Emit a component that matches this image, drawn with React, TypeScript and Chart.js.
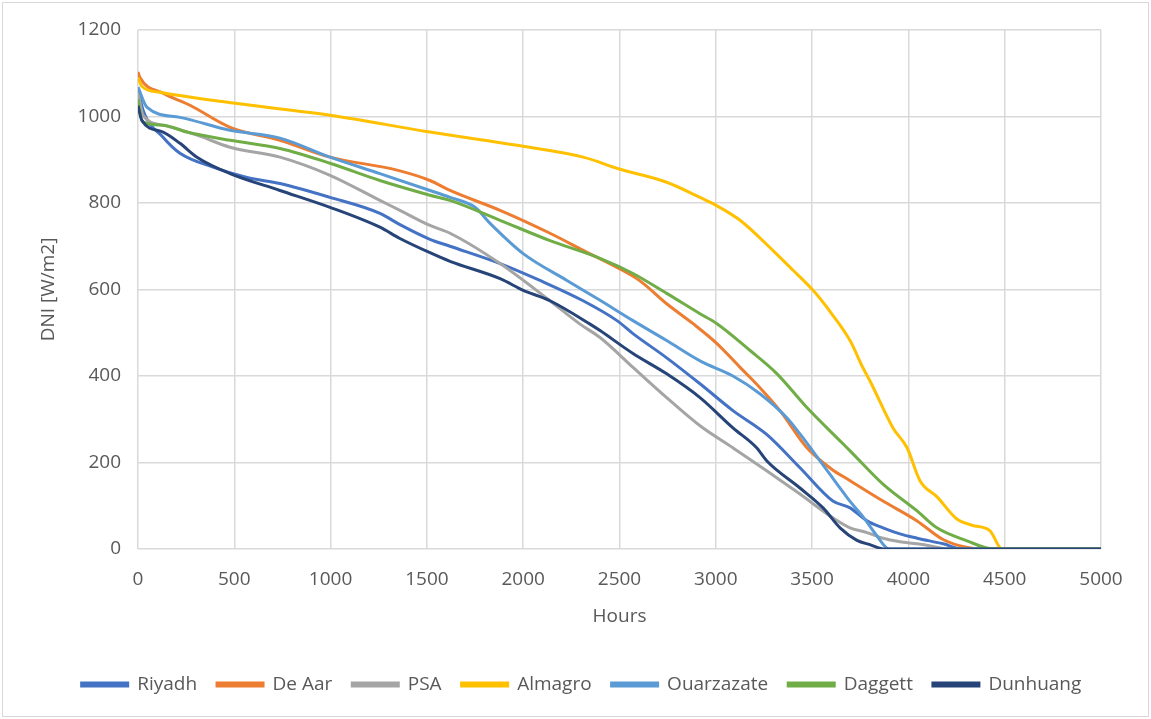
import React, { useEffect, useRef } from "react";
import { Chart, registerables } from "chart.js";

Chart.register(...registerables);

const seriesNames = ["Riyadh", "De Aar", "PSA", "Almagro", "Ouarzazate", "Daggett", "Dunhuang"];
const seriesColors = ["#4472C4", "#ED7D31", "#A5A5A5", "#FFC000", "#5B9BD5", "#70AD47", "#264478"];

const riyadhHours = [0, 26, 130, 218, 389, 566, 737, 997, 1256, 1360, 1516, 1620, 1880, 2087, 2311, 2487, 2570, 2745, 2918, 3089, 3264, 3437, 3608, 3697, 3785, 3868, 3956, 4045, 4180, 4283, 5000];
const riyadhDNI = [1065, 1015, 952, 915, 883, 859, 845, 813, 776, 750, 716, 700, 660, 621, 574, 528, 498, 442, 382, 320, 265, 188, 111, 95, 65, 49, 35, 25, 12, 0, 0];

const deAarHours = [0, 10, 130, 270, 478, 737, 997, 1345, 1516, 1620, 1880, 2139, 2331, 2487, 2606, 2745, 2882, 3006, 3126, 3229, 3333, 3473, 3600, 3697, 3868, 4045, 4180, 4300, 4380, 5000];
const deAarDNI = [1103, 1090, 1054, 1026, 975, 945, 906, 876, 852, 829, 783, 730, 686, 651, 620, 567, 521, 475, 420, 373, 320, 234, 185, 158, 111, 65, 22, 4, 0, 0];

const psaHours = [0, 26, 130, 306, 478, 737, 997, 1256, 1360, 1516, 1620, 1880, 2139, 2295, 2399, 2570, 2745, 2918, 3089, 3264, 3437, 3608, 3697, 3785, 3868, 3956, 4045, 4128, 4200, 5000];
const psaDNI = [1056, 1003, 980, 957, 929, 906, 864, 806, 783, 748, 730, 660, 574, 520, 489, 420, 350, 285, 234, 181, 127, 72, 49, 38, 25, 17, 12, 6, 0, 0];

const almagroHours = [0, 20, 114, 494, 997, 1516, 2000, 2311, 2503, 2745, 2918, 3000, 3126, 3297, 3400, 3505, 3600, 3697, 3764, 3800, 3920, 3993, 4060, 4150, 4250, 4330, 4424, 4486, 5000];
const almagroDNI = [1090, 1070, 1056, 1031, 1003, 964, 931, 906, 878, 848, 813, 795, 760, 690, 645, 598, 545, 482, 419, 389, 280, 234, 158, 120, 70, 55, 42, 0, 0];

const ouarzazateHours = [0, 47, 218, 478, 737, 997, 1256, 1516, 1620, 1750, 1828, 2000, 2227, 2399, 2570, 2745, 2918, 3089, 3229, 3370, 3437, 3541, 3645, 3697, 3764, 3837, 3900, 5000];
const ouarzazateDNI = [1068, 1021, 998, 968, 950, 906, 868, 829, 813, 790, 753, 683, 621, 575, 528, 482, 435, 400, 359, 303, 266, 204, 141, 110, 75, 30, 0, 0];

const daggettHours = [0, 10, 26, 130, 254, 478, 737, 997, 1256, 1516, 1620, 1880, 2139, 2399, 2570, 2745, 2918, 3006, 3178, 3318, 3473, 3645, 3697, 3868, 4045, 4148, 4304, 4440, 5000];
const daggettDNI = [1040, 1010, 987, 980, 964, 945, 926, 892, 852, 818, 806, 760, 713, 672, 637, 591, 544, 521, 459, 405, 327, 250, 227, 150, 88, 49, 19, 0, 0];

const dunhuangHours = [0, 20, 130, 218, 306, 478, 737, 997, 1256, 1360, 1516, 1620, 1880, 2000, 2139, 2347, 2399, 2570, 2745, 2918, 3089, 3212, 3264, 3437, 3557, 3645, 3733, 3800, 3880, 5000];
const dunhuangDNI = [1025, 991, 964, 938, 906, 868, 829, 790, 744, 718, 685, 665, 625, 598, 574, 520, 505, 452, 405, 350, 280, 234, 204, 141, 95, 49, 20, 10, 0, 0];

const xTicks = [0, 500, 1000, 1500, 2000, 2500, 3000, 3500, 4000, 4500, 5000];
const yTicks = [0, 200, 400, 600, 800, 1000, 1200];

const allHours = [riyadhHours, deAarHours, psaHours, almagroHours, ouarzazateHours, daggettHours, dunhuangHours];
const allDNI = [riyadhDNI, deAarDNI, psaDNI, almagroDNI, ouarzazateDNI, daggettDNI, dunhuangDNI];

const FONT = "'Open Sans', sans-serif";
const TEXT = "#595959";

const borderPlugin = {
  id: "outerBorder",
  afterLayout(chart: any) {
    const lg = chart.legend;
    if (lg) {
      lg.left += 26;
      lg.right += 26;
    }
  },
  beforeDraw(chart: any) {
    const ctx = chart.ctx;
    ctx.save();
    ctx.fillStyle = "#ffffff";
    ctx.fillRect(0, 0, chart.width, chart.height);
    ctx.restore();
  },
  afterDraw(chart: any) {
    const ctx = chart.ctx;
    ctx.save();
    ctx.strokeStyle = "#d9d9d9";
    ctx.lineWidth = 1;
    ctx.strokeRect(2.5, 2.5, chart.width - 5, chart.height - 5);
    ctx.restore();
  },
};

export default function App() {
  const canvasRef = useRef<HTMLCanvasElement | null>(null);

  useEffect(() => {
    document.body.style.margin = "0";
    const canvas = canvasRef.current;
    if (!canvas) return;
    const datasets = seriesNames.map((name, i) => ({
      label: name,
      data: allHours[i].map((h, k) => ({ x: h, y: allDNI[i][k] })),
      borderColor: seriesColors[i],
      backgroundColor: seriesColors[i],
      borderWidth: 3,
      pointRadius: 0,
      cubicInterpolationMode: "monotone",
      fill: false,
      order: seriesNames.length - i,
    }));
    const chart = new Chart(canvas, {
      type: "line",
      data: { datasets },
      plugins: [borderPlugin],
      options: {
        animation: false,
        responsive: false,
        maintainAspectRatio: false,
        layout: { padding: { top: 30, right: 50, bottom: 15, left: 10 } },
        plugins: {
          tooltip: { enabled: false },
          legend: {
            position: "bottom",
            labels: {
              color: TEXT,
              font: { family: FONT, size: 19 },
              boxWidth: 46,
              boxHeight: 3,
              padding: 20,
              sort: (a: any, b: any) => a.datasetIndex - b.datasetIndex,
            },
          },
        },
        scales: {
          x: {
            type: "linear",
            min: 0,
            max: 5000,
            afterBuildTicks: (scale: any) => {
              scale.ticks = xTicks.map((v) => ({ value: v }));
            },
            afterFit: (scale: any) => {
              scale.height = 106;
            },
            ticks: { color: TEXT, font: { family: FONT, size: 19 }, padding: 19, maxRotation: 0, callback: (v: any) => String(v) },
            grid: { color: "#d9d9d9", lineWidth: 1.5, drawTicks: false },
            border: { display: false },
            title: { display: true, text: "Hours", color: TEXT, font: { family: FONT, size: 19 }, padding: { top: 0, bottom: 27 } },
          },
          y: {
            type: "linear",
            min: 0,
            max: 1200,
            afterBuildTicks: (scale: any) => {
              scale.ticks = yTicks.map((v) => ({ value: v }));
            },
            afterFit: (scale: any) => {
              scale.width = 128;
            },
            ticks: { color: TEXT, font: { family: FONT, size: 19 }, padding: 17, callback: (v: any) => String(v) },
            grid: { color: "#d9d9d9", lineWidth: 1.5, drawTicks: false },
            border: { display: false },
            title: { display: true, text: "DNI [W/m2]", color: TEXT, font: { family: FONT, size: 19 }, padding: { top: 27, bottom: 0 } },
          },
        },
      },
    } as any);
    return () => chart.destroy();
  }, []);

  return (
    <div style={{ width: 1151, height: 719 }}>
      <canvas ref={canvasRef} width={1151} height={719} style={{ display: "block" }} />
    </div>
  );
}
